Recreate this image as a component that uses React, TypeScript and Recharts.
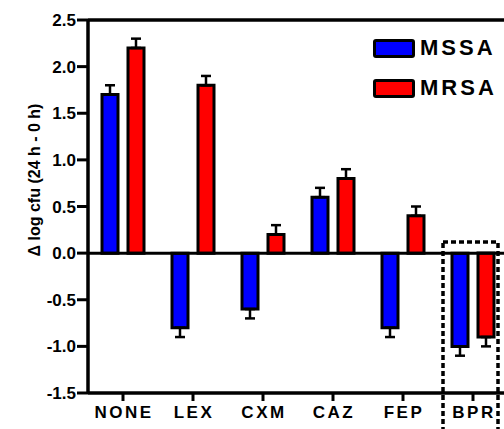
import { BarChart, Bar, XAxis, YAxis, ErrorBar, ReferenceLine } from 'recharts';

const categories = ['NONE', 'LEX', 'CXM', 'CAZ', 'FEP', 'BPR'];
const mssaValues = [1.7, -0.8, -0.6, 0.6, -0.8, -1.0];
const mssaErrors = [0.1, 0.1, 0.1, 0.1, 0.1, 0.1];
const mrsaValues = [2.2, 1.8, 0.2, 0.8, 0.4, -0.9];
const mrsaErrors = [0.1, 0.1, 0.1, 0.1, 0.1, 0.1];
const yTicks = [-1.5, -1.0, -0.5, 0.0, 0.5, 1.0, 1.5, 2.0, 2.5];

const series = [
  { key: 'mssa', name: 'MSSA', color: '#0000ff' },
  { key: 'mrsa', name: 'MRSA', color: '#ff0000' },
];

// error bars only point away from zero, like the original figure
const oneSided = (v: number, e: number) => (v >= 0 ? [0, e] : [e, 0]);

const data = categories.map((name, i) => ({
  name,
  mssa: mssaValues[i],
  mssaErr: oneSided(mssaValues[i], mssaErrors[i]),
  mrsa: mrsaValues[i],
  mrsaErr: oneSided(mrsaValues[i], mrsaErrors[i]),
}));

const FONT = '"Liberation Sans", Arial, sans-serif';

export default function App() {
  return (
    <div
      style={{
        position: 'fixed',
        left: 0,
        top: 0,
        width: 504,
        height: 429,
        overflow: 'hidden',
        background: '#fff',
        fontFamily: FONT,
      }}
    >
      <BarChart
        width={540}
        height={429}
        data={data}
        margin={{ top: 20, right: 32, bottom: 6, left: 0 }}
        barSize={16}
        barGap={10}
      >
        <XAxis
          dataKey="name"
          height={30}
          axisLine={{ stroke: '#000', strokeWidth: 3.5 }}
          tickLine={{ stroke: '#000', strokeWidth: 3 }}
          tickSize={8}
          tickMargin={5}
          tick={{ fill: '#000', fontSize: 17, fontWeight: 'bold', fontFamily: FONT, letterSpacing: 2.5, dx: 1 }}
        />
        <YAxis
          width={88}
          domain={[-1.5, 2.5]}
          ticks={yTicks}
          allowDataOverflow
          tickFormatter={(v: number) => v.toFixed(1)}
          axisLine={{ stroke: '#000', strokeWidth: 3.5 }}
          tickLine={{ stroke: '#000', strokeWidth: 3 }}
          tickSize={11}
          tickMargin={1}
          tick={{ fill: '#000', fontSize: 17, fontWeight: 'bold', fontFamily: FONT }}
          label={() => (
            <text
              x={34}
              y={180}
              transform="rotate(-90 34 180)"
              textAnchor="middle"
              dominantBaseline="central"
              fontSize={16}
              fontWeight="bold"
              fontFamily={FONT}
              fill="#000"
            >
              Δ log cfu (24 h - 0 h)
            </text>
          )}
        />
        <ReferenceLine y={2.5} stroke="#000" strokeWidth={3.5} />
        {series.map((s) => (
          <Bar
            key={s.key}
            dataKey={s.key}
            name={s.name}
            fill={s.color}
            stroke="#000"
            strokeWidth={3}
            isAnimationActive={false}
          >
            <ErrorBar dataKey={`${s.key}Err`} width={5} stroke="#000" strokeWidth={2.5} />
          </Bar>
        ))}
        <ReferenceLine y={0} stroke="#000" strokeWidth={3} />
      </BarChart>

      {/* legend */}
      <div style={{ position: 'absolute', left: 373, top: 38 }}>
        {series.map((s) => (
          <div key={s.key} style={{ display: 'flex', alignItems: 'center', height: 20, marginBottom: 20 }}>
            <div
              style={{
                width: 36,
                height: 13,
                background: s.color,
                border: '3px solid #000',
                borderRadius: 3,
              }}
            />
            <span
              style={{
                marginLeft: 5,
                fontSize: 22,
                fontWeight: 'bold',
                letterSpacing: 3,
                color: '#000',
                lineHeight: '20px',
              }}
            >
              {s.name}
            </span>
          </div>
        ))}
      </div>

      {/* dashed box highlighting BPR */}
      <svg
        width={504}
        height={429}
        style={{ position: 'absolute', left: 0, top: 0, pointerEvents: 'none' }}
      >
        <rect x={443} y={242} width={55} height={200} fill="none" stroke="#000" strokeWidth={3.5} strokeDasharray="5 3" />
      </svg>
    </div>
  );
}
